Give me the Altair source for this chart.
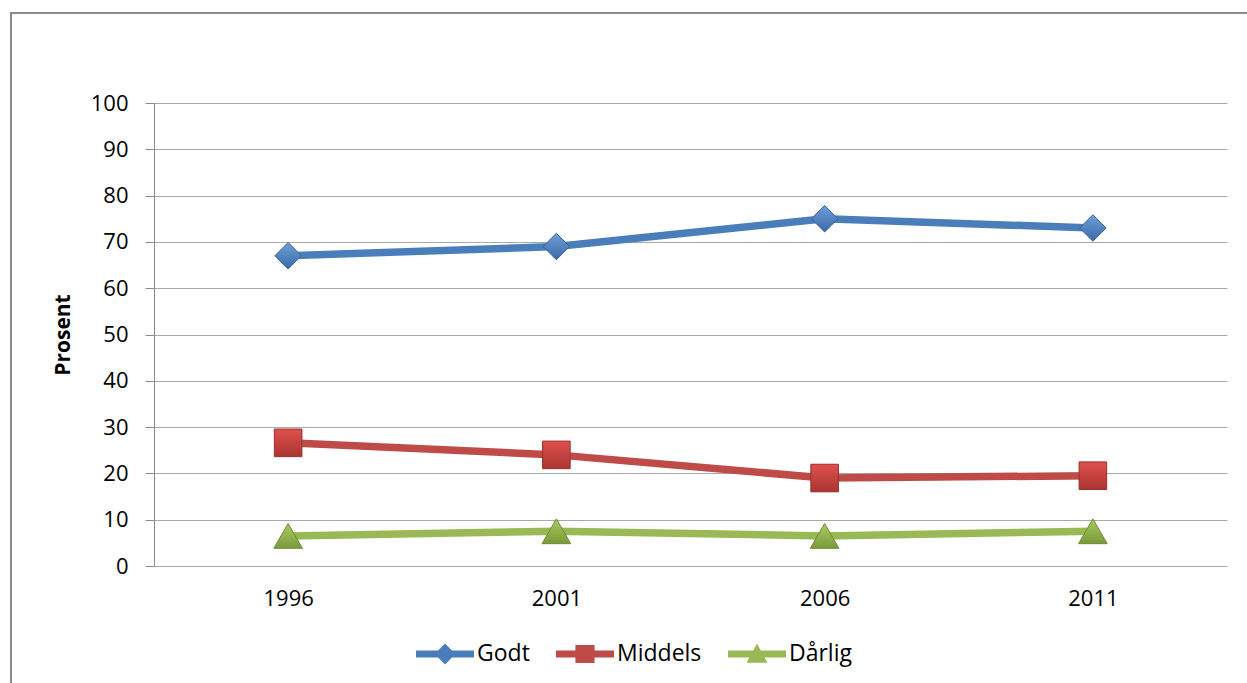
import altair as alt
import pandas as pd

# Share of respondents (%) per survey year
years = ["1996", "2001", "2006", "2011"]
series_names = ["Godt", "Middels", "Dårlig"]
godt = [67, 69, 75, 73]
middels = [26.6, 24, 19, 19.5]
darlig = [6.5, 7.5, 6.5, 7.5]

line_colors = ["#4A7EBB", "#BE4B48", "#98B954"]
marker_light = ["#6E9FDB", "#E0504C", "#A9CB62"]
marker_dark = ["#3B6AA6", "#A93532", "#7A9A3A"]
marker_edge = ["#35609A", "#992F2C", "#6E8C34"]
marker_shapes = ["diamond", "square", "triangle-up"]
marker_sizes = [700, 760, 820]

# legend glyphs: a line segment with the series marker in the middle
legend_paths = [
    "M-1,-0.12H1V0.12H-1Z M0,-0.36L0.36,0L0,0.36L-0.36,0Z",
    "M-1,-0.12H1V0.12H-1Z M-0.33,-0.31H0.33V0.31H-0.33Z",
    "M-1,-0.12H1V0.12H-1Z M0,-0.36L0.36,0.3H-0.36Z",
]

FONT = "Open Sans"

rows = []
for name, vals in zip(series_names, [godt, middels, darlig]):
    for yr, v in zip(years, vals):
        rows.append({"Year": yr, "Series": name, "Value": v})
df = pd.DataFrame(rows)

x_enc = alt.X(
    "Year:N",
    sort=years,
    scale=alt.Scale(type="point", padding=0.5),
    axis=alt.Axis(
        title=None, domain=False, ticks=False, grid=False,
        labelFont=FONT, labelFontSize=22, labelColor="#000000",
        labelPadding=22, labelAngle=0,
    ),
)
y_enc = alt.Y(
    "Value:Q",
    scale=alt.Scale(domain=[0, 100], nice=False),
    axis=alt.Axis(
        title="Prosent", values=list(range(0, 101, 10)),
        domain=True, domainColor="#8A8A8A", domainWidth=1,
        ticks=True, tickSize=9, tickColor="#8A8A8A",
        grid=True, gridColor="#A8A8A8", gridWidth=1,
        labelFont=FONT, labelFontSize=22, labelColor="#000000",
        labelPadding=17,
        titleFont=FONT, titleFontSize=21, titleFontWeight="bold",
        titleColor="#000000", titleAngle=270, titleX=-91, titleY=231.5,
        titleAlign="center", titleBaseline="middle",
    ),
)

base = alt.Chart(df)
layers = []

# chart-area frame
frame = alt.Chart(alt.Data(values=[{}])).mark_rect(
    fill="#FFFFFF", fillOpacity=0, stroke="#8C8C8C", strokeWidth=2
).encode(
    x=alt.value(-143), x2=alt.value(1120),
    y=alt.value(-90), y2=alt.value(700),
)
layers.append(frame)

for i, name in enumerate(series_names):
    sub = base.transform_filter(alt.datum.Series == name)
    line = sub.mark_line(
        color=line_colors[i], strokeWidth=7.5, strokeCap="round", strokeJoin="round"
    ).encode(x=x_enc, y=y_enc)
    grad = alt.Gradient(
        gradient="linear", x1=0, x2=0, y1=0, y2=1,
        stops=[
            alt.GradientStop(color=marker_light[i], offset=0),
            alt.GradientStop(color=marker_dark[i], offset=1),
        ],
    )
    pts = sub.mark_point(
        shape=marker_shapes[i], size=marker_sizes[i], filled=True,
        fill=grad, stroke=marker_edge[i], strokeWidth=1, opacity=1,
    ).encode(x=x_enc, y=y_enc)
    layers += [line, pts]

legend_props = dict(
    title=None, orient="none", direction="horizontal",
    legendX=262, legendY=522,
    symbolSize=3364, symbolStrokeWidth=0,
    labelFont=FONT, labelFontSize=23, labelColor="#000000",
    labelOffset=3, columnPadding=26,
)

# legend-only layer (no rows drawn)
legend_layer = base.transform_filter("false").mark_point(filled=True, opacity=1).encode(
    x=x_enc, y=y_enc,
    color=alt.Color(
        "Series:N",
        scale=alt.Scale(domain=series_names, range=line_colors),
        legend=alt.Legend(**legend_props),
    ),
    shape=alt.Shape(
        "Series:N",
        scale=alt.Scale(domain=series_names, range=legend_paths),
        legend=alt.Legend(**legend_props),
    ),
)
layers.append(legend_layer)

chart = alt.layer(*layers).properties(
    width=1073,
    height=463,
    autosize=alt.AutoSizeParams(type="none"),
    padding={"left": 154, "top": 103, "right": 20, "bottom": 117},
    background="#FFFFFF",
).configure_view(stroke=None)

chart.save("out.html", embed_options={"renderer": "svg", "actions": False})
